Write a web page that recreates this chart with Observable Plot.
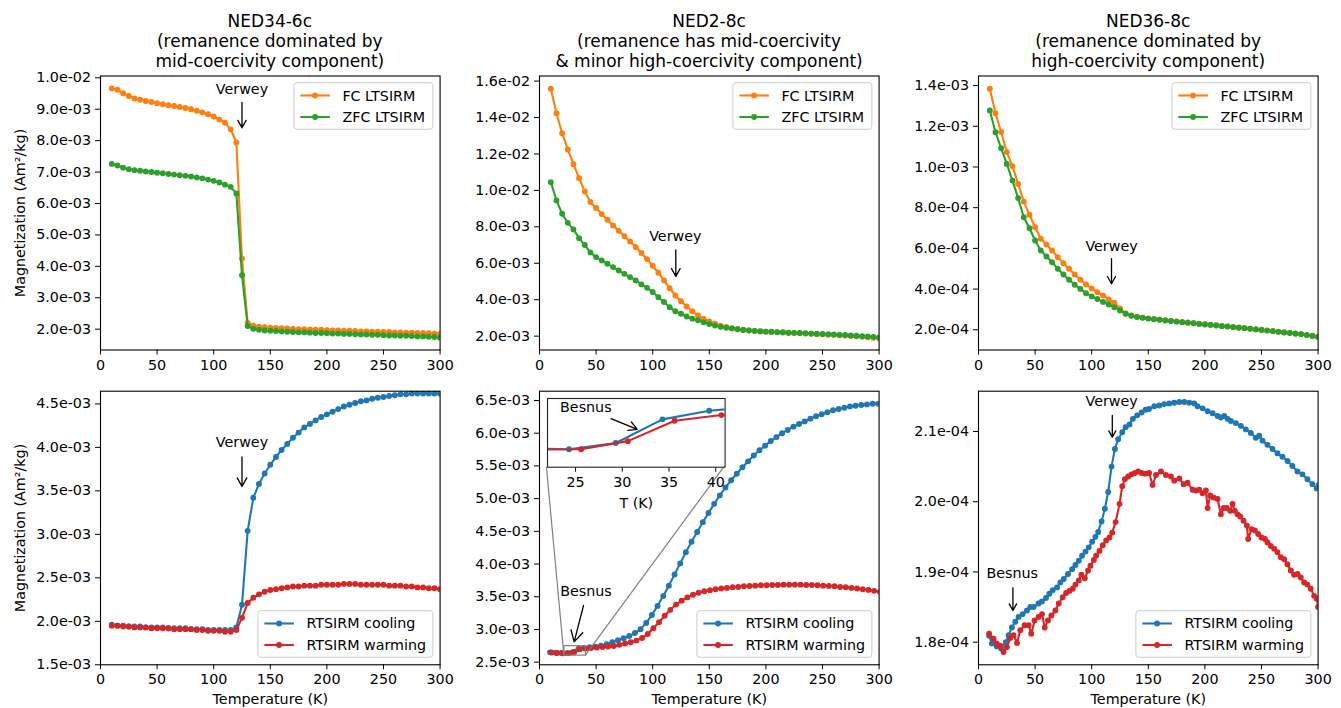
<!DOCTYPE html>
<html><head><meta charset="utf-8">
<script src="https://cdn.jsdelivr.net/npm/d3@7"></script>
<script src="https://cdn.jsdelivr.net/npm/@observablehq/plot@0.6"></script>
<style>
body{margin:0;background:#fff;font-family:"DejaVu Sans",sans-serif;}
#fig{position:relative;width:1341px;height:708px;overflow:hidden;background:#fff;}
.title{position:absolute;top:10.5px;width:420px;text-align:center;font-size:17px;line-height:20.3px;color:#000;white-space:nowrap;}
.panel{position:absolute;}
</style></head><body><div id="fig"></div><script>
// ---------------- DATA ----------------
const titles = [
  ["NED34-6c", "(remanence dominated by", "mid-coercivity component)"],
  ["NED2-8c", "(remanence has mid-coercivity", "& minor high-coercivity component)"],
  ["NED36-8c", "(remanence dominated by", "high-coercivity component)"]
];
const topLegend = ["FC LTSIRM", "ZFC LTSIRM"];
const bottomLegend = ["RTSIRM cooling", "RTSIRM warming"];
const yLabel = "Magnetization (Am\u00B2/kg)";
const xLabel = "Temperature (K)";
const xTicks = [0, 50, 100, 150, 200, 250, 300];

const temps5 = [10,15,20,25,30,35,40,45,50,55, 60,65,70,75,80,85,90,95,100,105,
  110,115,120,125,130,135,140,145,150,155, 160,165,170,175,180,185,190,195,200,205,
  210,215,220,225,230,235,240,245,250,255, 260,265,270,275,280,285,290,295,300];

// Panel 1 NED34-6c (units 1e-3 Am2/kg)
const p1FC_e3 = [9.66,9.62,9.51,9.42,9.34,9.30,9.26,9.23,9.19,9.16,
  9.13,9.10,9.07,9.04,9.00,8.95,8.90,8.84,8.77,8.67,
  8.57,8.36,7.94,4.24,2.20,2.11,2.08,2.06,2.05,2.04,
  2.03,2.02,2.01,2.00,2.00,1.99,1.98,1.98,1.97,1.96,
  1.96,1.95,1.95,1.94,1.93,1.93,1.92,1.92,1.91,1.91,
  1.90,1.90,1.89,1.89,1.88,1.88,1.87,1.86,1.85];
const p1ZFC_e3 = [7.26,7.21,7.14,7.09,7.06,7.04,7.02,7.00,6.98,6.96,
  6.94,6.92,6.90,6.88,6.86,6.83,6.80,6.76,6.72,6.67,
  6.60,6.53,6.32,3.72,2.10,2.01,1.98,1.96,1.95,1.94,
  1.93,1.92,1.91,1.90,1.90,1.89,1.88,1.88,1.87,1.86,
  1.86,1.85,1.85,1.84,1.83,1.83,1.82,1.82,1.81,1.80,
  1.80,1.79,1.79,1.78,1.77,1.77,1.76,1.75,1.73];
const p1YTicks = [2e-3,3e-3,4e-3,5e-3,6e-3,7e-3,8e-3,9e-3,1e-2];
const p1YDomain = [1.338e-3, 10.057e-3];

// Panel 2 NED2-8c (units 1e-3)
const p2FC_e3 = [15.58,14.24,13.14,12.25,11.44,10.67,9.94,9.36,9.03,8.70,
  8.39,8.08,7.78,7.49,7.20,6.89,6.56,6.23,5.86,5.48,
  5.06,4.63,4.23,3.92,3.63,3.37,3.13,2.95,2.80,2.68,
  2.58,2.50,2.44,2.39,2.35,2.31,2.28,2.26,2.24,2.23,
  2.21,2.20,2.18,2.17,2.16,2.14,2.13,2.11,2.10,2.08,
  2.07,2.05,2.03,2.01,1.99,1.96,1.94,1.91,1.88];
const p2ZFC_e3 = [10.45,9.45,8.72,8.22,7.86,7.38,7.00,6.59,6.34,6.15,
  5.97,5.79,5.60,5.42,5.24,5.06,4.84,4.65,4.42,4.14,
  3.87,3.59,3.37,3.23,3.08,2.96,2.87,2.76,2.66,2.58,
  2.51,2.46,2.42,2.38,2.34,2.31,2.29,2.27,2.25,2.24,
  2.22,2.21,2.19,2.18,2.17,2.16,2.14,2.13,2.12,2.10,
  2.09,2.07,2.06,2.04,2.02,2.00,1.98,1.96,1.93];
const p2YTicks = [2e-3,4e-3,6e-3,8e-3,1e-2,1.2e-2,1.4e-2,1.6e-2];
const p2YDomain = [1.24e-3, 16.28e-3];

// Panel 3 NED36-8c (units 1e-4)
const p3FC_e4 = [13.84,12.64,11.72,10.73,10.04,9.17,8.30,7.65,7.04,6.47,
  6.19,5.90,5.57,5.27,5.00,4.72,4.46,4.23,4.03,3.85,
  3.69,3.49,3.33,3.05,2.80,2.70,2.64,2.60,2.56,2.53,
  2.50,2.47,2.44,2.41,2.38,2.36,2.33,2.30,2.27,2.25,
  2.22,2.19,2.17,2.14,2.11,2.09,2.06,2.03,2.00,1.97,
  1.94,1.91,1.88,1.85,1.82,1.79,1.75,1.71,1.66];
const p3ZFC_e4 = [12.78,11.71,10.92,10.15,9.33,8.47,7.53,6.99,6.39,5.90,
  5.60,5.32,5.00,4.72,4.46,4.21,4.01,3.80,3.64,3.51,
  3.37,3.24,3.11,2.95,2.79,2.69,2.63,2.59,2.55,2.52,
  2.49,2.46,2.43,2.40,2.37,2.35,2.32,2.29,2.26,2.24,
  2.21,2.18,2.16,2.13,2.10,2.08,2.05,2.02,1.99,1.96,
  1.93,1.90,1.87,1.84,1.81,1.78,1.74,1.70,1.65];
const p3YTicks = [2e-4,4e-4,6e-4,8e-4,1e-3,1.2e-3,1.4e-3];
const p3YDomain = [1.008e-4, 14.47e-4];

// Panel 4 NED34-6c RTSIRM (units 1e-3)
const p4Cool_e3 = [1.96,1.95,1.95,1.94,1.94,1.94,1.93,1.93,1.93,1.93,
  1.92,1.92,1.92,1.92,1.91,1.91,1.91,1.90,1.90,1.90,
  1.90,1.90,1.93,2.19,3.04,3.42,3.58,3.70,3.80,3.89,
  3.97,4.04,4.11,4.17,4.23,4.27,4.31,4.35,4.38,4.41,
  4.44,4.47,4.49,4.51,4.53,4.54,4.56,4.57,4.58,4.59,
  4.60,4.61,4.61,4.62,4.62,4.62,4.62,4.62,4.62];
const p4Warm_e3 = [1.95,1.95,1.94,1.94,1.93,1.93,1.93,1.92,1.92,1.92,
  1.92,1.91,1.91,1.91,1.91,1.90,1.90,1.89,1.89,1.89,
  1.88,1.88,1.90,2.04,2.21,2.27,2.31,2.34,2.36,2.37,
  2.38,2.39,2.40,2.40,2.41,2.41,2.41,2.42,2.42,2.42,
  2.42,2.43,2.43,2.43,2.42,2.42,2.42,2.42,2.42,2.41,
  2.41,2.41,2.40,2.40,2.39,2.39,2.38,2.38,2.37];
const p4YTicks = [1.5e-3,2e-3,2.5e-3,3e-3,3.5e-3,4e-3,4.5e-3];
const p4YDomain = [1.5e-3, 4.646e-3];

// Panel 5 NED2-8c RTSIRM (units 1e-3)
const p5CoolT = [9.3,14.3,19.3,24.3,29.3,34.3,39.3,44.3,49.3,54.3,
  59.3,64.3,69.3,74.3,79.3,84.3,89.3,94.3,99.3,104.3,
  109.3,114.3,119.3,124.3,129.3,134.3,139.3,144.3,149.3,154.3,
  159.3,164.3,169.3,174.3,179.3,184.3,189.3,194.3,199.3,204.3,
  209.3,214.3,219.3,224.3,229.3,234.3,239.3,244.3,249.3,254.3,
  259.3,264.3,269.3,274.3,279.3,284.3,289.3,294.3,299.3];
const p5Cool_e3 = [2.650,2.645,2.640,2.638,2.651,2.701,2.719,2.728,2.738,2.750,
  2.775,2.805,2.835,2.865,2.900,2.945,3.005,3.100,3.220,3.360,
  3.510,3.670,3.840,4.010,4.180,4.340,4.490,4.640,4.780,4.920,
  5.050,5.170,5.280,5.380,5.480,5.570,5.660,5.740,5.810,5.880,
  5.940,6.000,6.050,6.100,6.140,6.180,6.220,6.260,6.290,6.320,
  6.350,6.370,6.390,6.410,6.420,6.430,6.440,6.450,6.450];
const p5WarmT = [10.6,15.6,20.6,25.6,30.6,35.6,40.6,45.6,50.6,55.6,
  60.6,65.6,70.6,75.6,80.6,85.6,90.6,95.6,100.6,105.6,
  110.6,115.6,120.6,125.6,130.6,135.6,140.6,145.6,150.6,155.6,
  160.6,165.6,170.6,175.6,180.6,185.6,190.6,195.6,200.6,205.6,
  210.6,215.6,220.6,225.6,230.6,235.6,240.6,245.6,250.6,255.6,
  260.6,265.6,270.6,275.6,280.6,285.6,290.6,295.6,300.6];
const p5Warm_e3 = [2.648,2.640,2.637,2.638,2.655,2.698,2.710,2.716,2.724,2.730,
  2.738,2.748,2.765,2.785,2.805,2.830,2.870,2.930,3.020,3.110,
  3.210,3.300,3.380,3.440,3.490,3.530,3.560,3.585,3.600,3.615,
  3.625,3.635,3.645,3.650,3.660,3.665,3.670,3.675,3.675,3.680,
  3.680,3.685,3.685,3.685,3.685,3.680,3.680,3.675,3.670,3.665,
  3.660,3.650,3.645,3.635,3.625,3.615,3.605,3.590,3.575];
const p5YTicks = [2.5e-3,3e-3,3.5e-3,4e-3,4.5e-3,5e-3,5.5e-3,6e-3,6.5e-3];
const p5YDomain = [2.46e-3, 6.642e-3];
const insetX = [22, 41];
const insetY = [2.60e-3, 2.745e-3];
const insetXTicks = [25, 30, 35, 40];
const insetXLabel = "T (K)";

// Panel 6 NED36-8c RTSIRM (units 1e-4)
const p6CoolT = [9.4,11.8,16.2,20.0,24.2,26.6,29.5,32.5,35.4,39.0,42.8,45.8,48.7,53.0,56.0,
  59.6,62.6,65.5,69.4,72.3,75.3,79.1,82.7,85.6,88.6,91.5,94.5,97.4,100.4,103.3,
  105.7,108.7,111.6,114.6,117.5,120.5,123.4,127.0,129.9,133.4,136.4,140.2,144.0,147.6,150.6,
  155.3,159.7,164.1,168.5,172.9,177.4,181.8,186.2,190.6,193.5,198.0,202.4,206.8,211.2,214.1,
  217.1,220.0,223.0,227.4,231.8,236.2,240.6,245.0,248.0,250.9,255.3,259.7,264.1,268.5,273.0,
  277.3,281.8,286.2,290.6,295.0,298.8,300.5];
const p6Cool_e4 = [1.809,1.798,1.794,1.791,1.800,1.810,1.821,1.829,1.836,1.840,1.845,1.850,1.850,1.855,1.858,
  1.863,1.869,1.874,1.878,1.885,1.890,1.897,1.904,1.910,1.916,1.923,1.929,1.935,1.943,1.950,
  1.957,1.972,1.990,2.014,2.050,2.075,2.089,2.099,2.106,2.110,2.118,2.123,2.127,2.131,2.132,
  2.136,2.137,2.139,2.140,2.141,2.142,2.142,2.141,2.140,2.136,2.133,2.129,2.126,2.122,2.120,
  2.122,2.118,2.115,2.112,2.108,2.103,2.098,2.091,2.094,2.087,2.081,2.075,2.069,2.064,2.058,
  2.051,2.043,2.039,2.032,2.025,2.019,2.024];
const p6WarmT = [9.4,13.3,16.2,19.2,22.1,25.1,28.0,31.0,34.0,36.9,40.7,44.3,46.6,49.6,53.1,
  56.1,58.5,61.4,64.4,67.9,70.9,74.4,77.4,80.3,83.3,85.6,88.6,90.9,93.9,96.8,
  98.9,101.9,103.9,106.9,109.8,112.8,115.7,118.1,121.1,124.6,127.0,129.3,132.3,135.2,138.2,
  141.1,144.1,147.5,150.7,153.8,156.8,161.2,165.6,170.0,172.9,177.4,181.2,184.7,189.1,192.1,
  195.0,197.9,200.9,202.4,204.7,207.6,211.2,214.1,216.5,219.4,222.4,224.4,226.5,228.8,231.2,
  234.1,237.1,238.2,241.2,244.1,247.1,250.0,253.0,255.3,258.2,261.2,264.1,267.0,270.0,272.9,
  275.9,278.8,281.8,284.7,287.7,290.6,293.5,296.5,298.8,300.0];
const p6Warm_e4 = [1.812,1.805,1.798,1.795,1.786,1.793,1.806,1.810,1.799,1.817,1.824,1.824,1.812,1.831,1.836,
  1.840,1.821,1.831,1.838,1.845,1.855,1.864,1.870,1.873,1.876,1.882,1.888,1.896,1.891,1.902,
  1.909,1.917,1.923,1.930,1.938,1.945,1.949,1.956,1.971,1.997,2.022,2.032,2.036,2.039,2.041,
  2.043,2.041,2.040,2.041,2.024,2.038,2.043,2.038,2.036,2.030,2.033,2.025,2.027,2.017,2.016,
  2.017,2.012,2.016,1.991,2.009,2.006,2.004,1.982,1.991,1.991,1.987,1.997,1.987,1.982,1.979,
  1.973,1.966,1.947,1.961,1.959,1.954,1.949,1.947,1.942,1.937,1.933,1.928,1.921,1.918,1.911,
  1.902,1.896,1.897,1.892,1.885,1.882,1.876,1.866,1.862,1.850];
const p6YTicks = [1.8e-4,1.9e-4,2.0e-4,2.1e-4];
const p6YDomain = [1.7678e-4, 2.1574e-4];

// Annotations (anchor points in data units, like matplotlib annotate xy / xytext)
const annotations = {
  p1: [{label:"Verwey", tx:125, ty:9.62e-3, x1:125, y1:9.22e-3, x2:125, y2:8.41e-3}],
  p2: [{label:"Verwey", tx:120, ty:7.49e-3, x1:120.4, y1:6.74e-3, x2:120.4, y2:5.28e-3}],
  p3: [{label:"Verwey", tx:117.5, ty:6.11e-4, x1:117.5, y1:5.49e-4, x2:117.5, y2:4.26e-4}],
  p4: [{label:"Verwey", tx:125, ty:4.06e-3, x1:125, y1:3.89e-3, x2:125, y2:3.55e-3}],
  p5: [{label:"Besnus", tx:41, ty:3.58e-3, x1:38.9, y1:3.366e-3, x2:30.6, y2:2.81e-3}],
  p6: [{label:"Verwey", tx:117.6, ty:2.1427e-4, x1:118.2, y1:2.1228e-4, x2:118.2, y2:2.0919e-4},
       {label:"Besnus", tx:29.8, ty:1.8983e-4, x1:30.4, y1:1.8774e-4, x2:30.4, y2:1.8451e-4}],
  inset: [{label:"Besnus", tx:26.1, ty:2.727e-3, x1:28.8, y1:2.7026e-3, x2:31.6, y2:2.680e-3}]
};

// ---------------- STYLE / LAYOUT ----------------
const COLORS = {FC:"#ff7f0e", ZFC:"#2ca02c", cool:"#1f77b4", warm:"#d62728"};
const FONT = "DejaVu Sans";
const FS = 14.3;
const FL = [100, 539.3, 978.4], FW = 339.6, ML = 100, MR = 12;
const ROWS = [{svgTop:65, h:315, mt:10.5, mb:30.5}, {svgTop:380, h:328, mt:10.7, mb:43.7}];
const fig = document.getElementById("fig");

const sci = d => {
  const [m, e] = d.toExponential(1).split("e");
  const n = +e;
  return `${m}e${n < 0 ? "-" : "+"}${String(Math.abs(n)).padStart(2, "0")}`;
};
const rows = (T, V, unit) => T.map((t, i) => ({T: t, M: V[i] * unit}));

function seriesMarks(s) {
  return [
    Plot.line(s.data, {x:"T", y:"M", stroke:s.color, strokeWidth:2.1, clip:true}),
    Plot.dot(s.data, {x:"T", y:"M", r:2.3, fill:s.color, stroke:s.color, strokeWidth:1.3, clip:true})
  ];
}
function annotMarks(list) {
  return [
    Plot.arrow(list, {x1:"x1", y1:"y1", x2:"x2", y2:"y2", stroke:"black", strokeWidth:1.3, headLength:22, headAngle:58}),
    Plot.text(list, {x:"tx", y:"ty", text:"label", fontSize:FS, textAnchor:"middle", lineAnchor:"middle", fill:"black"})
  ];
}

function addLegend(svg, labels, colors, box) {
  const g = d3.select(svg).append("g");
  g.append("rect").attr("x", box.x).attr("y", box.y).attr("width", box.w).attr("height", box.h)
    .attr("rx", 3).attr("fill", "white").attr("fill-opacity", 0.8).attr("stroke", "#cccccc").attr("stroke-width", 1);
  labels.forEach((lab, i) => {
    const cy = box.y + 12.8 + i * 21.5;
    g.append("line").attr("x1", box.x + 6.5).attr("x2", box.x + 36).attr("y1", cy).attr("y2", cy)
      .attr("stroke", colors[i]).attr("stroke-width", 2.1);
    g.append("circle").attr("cx", box.x + 21.2).attr("cy", cy).attr("r", 2.3).attr("fill", colors[i])
      .attr("stroke", colors[i]).attr("stroke-width", 1.3);
    g.append("text").attr("x", box.x + 48.5).attr("y", cy).attr("dy", "0.35em")
      .attr("text-anchor", "start").attr("fill", "black")
      .style("font-family", FONT).style("font-size", FS + "px").text(lab);
  });
}

function makePanel(cfg) {
  const R = ROWS[cfg.row];
  const width = ML + FW + MR;
  const marks = [];
  for (const s of cfg.series) marks.push(...seriesMarks(s));
  if (cfg.extra) marks.push(...cfg.extra);
  marks.push(...annotMarks(cfg.annots));
  if (cfg.col === 0) marks.push(Plot.text([yLabel], {frameAnchor:"left", dx:-80, rotate:-90, text:d => d,
    fontSize:FS, textAnchor:"middle", lineAnchor:"middle", fill:"black"}));
  if (cfg.row === 1) marks.push(Plot.text([xLabel], {frameAnchor:"bottom", dy:34.7, text:d => d,
    fontSize:FS, textAnchor:"middle", lineAnchor:"middle", fill:"black"}));
  marks.push(Plot.frame({stroke:"black", strokeWidth:1.1}));
  const plot = Plot.plot({
    width, height:R.h, marginLeft:ML, marginRight:MR, marginTop:R.mt, marginBottom:R.mb,
    style:{background:"transparent", overflow:"visible", fontFamily:FONT, fontSize:FS + "px", color:"black"},
    x:{domain:[0, 300], ticks:xTicks, tickSize:5, tickPadding:4.5, tickFormat:d => String(d), label:null},
    y:{domain:cfg.yDomain, ticks:cfg.yTicks, tickSize:5, tickPadding:4.5, tickFormat:sci, label:null},
    marks
  });
  plot.classList.add("panel");
  plot.style.left = (FL[cfg.col] - ML) + "px";
  plot.style.top = R.svgTop + "px";
  fig.appendChild(plot);
  const frameTop = R.mt, frameBottom = R.h - R.mb, frameRight = ML + FW;
  const lw = cfg.row === 0 ? 139 : 175, lh = 46.6;
  const box = cfg.row === 0
    ? {x: frameRight - 6.7 - lw, y: frameTop + 7.2, w: lw, h: lh}
    : {x: frameRight - 6.7 - lw, y: frameBottom - 7 - lh, w: lw, h: lh};
  addLegend(plot, cfg.legend, cfg.legendColors, box);
  return plot;
}

// titles
titles.forEach((lines, c) => {
  const d = document.createElement("div");
  d.className = "title";
  d.style.left = (FL[c] + FW / 2 - 210) + "px";
  lines.forEach(l => { const s = document.createElement("div"); s.textContent = l; d.appendChild(s); });
  fig.appendChild(d);
});

const topColors = [COLORS.FC, COLORS.ZFC], botColors = [COLORS.cool, COLORS.warm];

makePanel({row:0, col:0, yDomain:p1YDomain, yTicks:p1YTicks, annots:annotations.p1, legend:topLegend, legendColors:topColors,
  series:[{data:rows(temps5, p1FC_e3, 1e-3), color:COLORS.FC}, {data:rows(temps5, p1ZFC_e3, 1e-3), color:COLORS.ZFC}]});
makePanel({row:0, col:1, yDomain:p2YDomain, yTicks:p2YTicks, annots:annotations.p2, legend:topLegend, legendColors:topColors,
  series:[{data:rows(temps5, p2FC_e3, 1e-3), color:COLORS.FC}, {data:rows(temps5, p2ZFC_e3, 1e-3), color:COLORS.ZFC}]});
makePanel({row:0, col:2, yDomain:p3YDomain, yTicks:p3YTicks, annots:annotations.p3, legend:topLegend, legendColors:topColors,
  series:[{data:rows(temps5, p3FC_e4, 1e-4), color:COLORS.FC}, {data:rows(temps5, p3ZFC_e4, 1e-4), color:COLORS.ZFC}]});
makePanel({row:1, col:0, yDomain:p4YDomain, yTicks:p4YTicks, annots:annotations.p4, legend:bottomLegend, legendColors:botColors,
  series:[{data:rows(temps5, p4Cool_e3, 1e-3), color:COLORS.cool}, {data:rows(temps5, p4Warm_e3, 1e-3), color:COLORS.warm}]});

const p5Cool = rows(p5CoolT, p5Cool_e3, 1e-3), p5Warm = rows(p5WarmT, p5Warm_e3, 1e-3);
const zoomBox = [{x1:insetX[0], x2:insetX[1], y1:insetY[0], y2:insetY[1]}];
const main5 = makePanel({row:1, col:1, yDomain:p5YDomain, yTicks:p5YTicks, annots:annotations.p5, legend:bottomLegend, legendColors:botColors,
  series:[{data:p5Cool, color:COLORS.cool}, {data:p5Warm, color:COLORS.warm}],
  extra:[Plot.rect(zoomBox, {x1:"x1", x2:"x2", y1:"y1", y2:"y2", fill:"none", stroke:"#808080", strokeWidth:1.2})]});

makePanel({row:1, col:2, yDomain:p6YDomain, yTicks:p6YTicks, annots:annotations.p6, legend:bottomLegend, legendColors:botColors,
  series:[{data:rows(p6CoolT, p6Cool_e4, 1e-4), color:COLORS.cool}, {data:rows(p6WarmT, p6Warm_e4, 1e-4), color:COLORS.warm}]});

// inset in panel 5
const IN = {left:541.7, top:395, ml:5, mr:10, mt:3, mb:45, fw:177.6, fh:68.7};
const inset = Plot.plot({
  width:IN.ml + IN.fw + IN.mr, height:IN.mt + IN.fh + IN.mb,
  marginLeft:IN.ml, marginRight:IN.mr, marginTop:IN.mt, marginBottom:IN.mb,
  style:{background:"transparent", overflow:"visible", fontFamily:FONT, fontSize:FS + "px", color:"black"},
  x:{domain:insetX, ticks:insetXTicks, tickSize:5, tickPadding:4.5, tickFormat:d => String(d), label:null},
  y:{domain:insetY, axis:null},
  marks:[
    Plot.frame({fill:"white"}),
    ...seriesMarks({data:p5Cool, color:COLORS.cool}),
    ...seriesMarks({data:p5Warm, color:COLORS.warm}),
    ...annotMarks(annotations.inset),
    Plot.text([insetXLabel], {frameAnchor:"bottom", dy:36.6, text:d => d, fontSize:FS, textAnchor:"middle", lineAnchor:"middle", fill:"black"}),
    Plot.frame({stroke:"#222", strokeWidth:1.1})
  ]
});
inset.classList.add("panel");
inset.style.left = IN.left + "px";
inset.style.top = IN.top + "px";
fig.appendChild(inset);

// connector lines (mark_inset style) from inset lower corners to zoom box lower corners
{
  const sx = main5.scale("x"), sy = main5.scale("y");
  const ix = inset.scale("x"), iy = inset.scale("y");
  const mainLeft = FL[1] - ML, mainTop = ROWS[1].svgTop;
  const ox = IN.left - mainLeft, oy = IN.top - mainTop;
  const pairs = [[insetX[0], insetY[0]], [insetX[1], insetY[0]]];
  const g = d3.select(main5).append("g");
  for (const [tx, ty] of pairs) {
    g.append("line")
      .attr("x1", ix.apply(tx) + ox).attr("y1", iy.apply(ty) + oy)
      .attr("x2", sx.apply(tx)).attr("y2", sy.apply(ty))
      .attr("stroke", "#808080").attr("stroke-width", 1.2);
  }
}
</script></body></html>
